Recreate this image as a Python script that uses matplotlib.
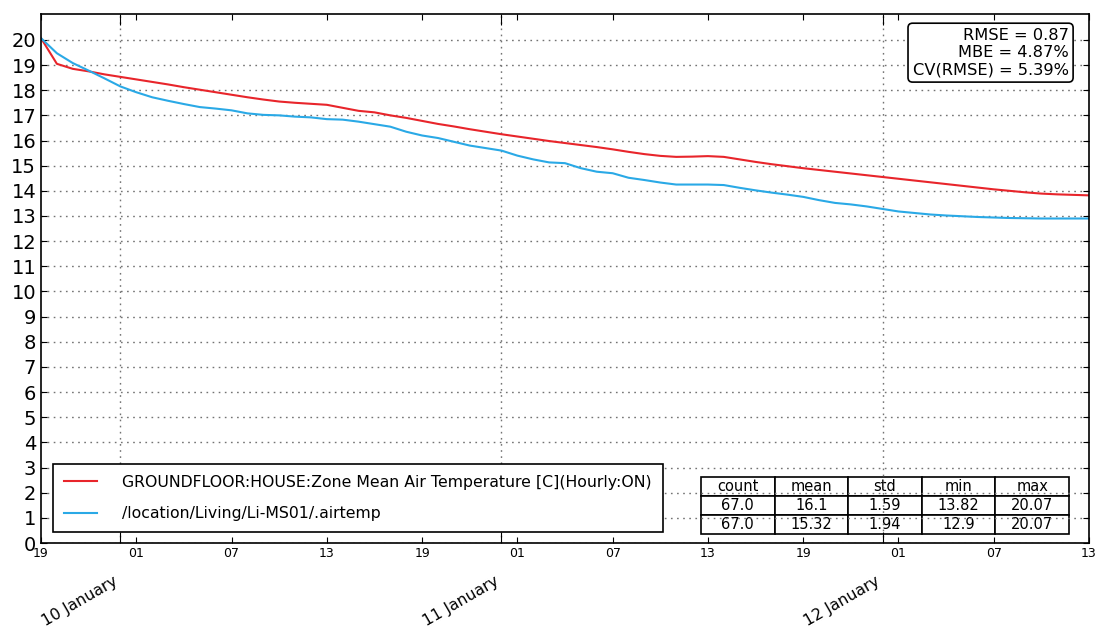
import matplotlib
matplotlib.use("Agg")
import matplotlib.pyplot as plt
import matplotlib.dates as mdates
import pandas as pd

# Hourly series, 2015-01-09 19:00 .. 2015-01-12 13:00
start = "2015-01-09 19:00"
sim_label = "GROUNDFLOOR:HOUSE:Zone Mean Air Temperature [C](Hourly:ON)"
meas_label = "/location/Living/Li-MS01/.airtemp"

sim_temp = [
    20.07, 19.05, 18.85, 18.75, 18.63, 18.53, 18.43, 18.33, 18.23, 18.12,
    18.02, 17.92, 17.82, 17.72, 17.63, 17.55, 17.50, 17.46, 17.42, 17.30,
    17.18, 17.12, 17.00, 16.90, 16.78, 16.66, 16.56, 16.45, 16.35, 16.25,
    16.16, 16.07, 15.98, 15.90, 15.82, 15.74, 15.65, 15.55, 15.46, 15.39,
    15.35, 15.36, 15.38, 15.35, 15.25, 15.15, 15.06, 14.98, 14.90, 14.83,
    14.76, 14.69, 14.62, 14.55, 14.48, 14.41, 14.34, 14.27, 14.20, 14.13,
    14.06, 14.00, 13.94, 13.89, 13.86, 13.84, 13.82,
]
meas_temp = [
    20.07, 19.47, 19.08, 18.78, 18.47, 18.15, 17.92, 17.72, 17.58, 17.45,
    17.33, 17.27, 17.20, 17.08, 17.02, 17.00, 16.95, 16.92, 16.85, 16.83,
    16.75, 16.65, 16.55, 16.35, 16.20, 16.10, 15.95, 15.80, 15.70, 15.60,
    15.40, 15.25, 15.13, 15.10, 14.90, 14.76, 14.70, 14.52, 14.43, 14.33,
    14.25, 14.25, 14.25, 14.23, 14.12, 14.02, 13.93, 13.85, 13.76, 13.63,
    13.52, 13.46, 13.38, 13.28, 13.18, 13.12, 13.06, 13.02, 12.99, 12.96,
    12.94, 12.92, 12.91, 12.90, 12.90, 12.90, 12.90,
]

stats_cols = ["count", "mean", "std", "min", "max"]
stats_rows = [
    ["67.0", "16.1", "1.59", "13.82", "20.07"],
    ["67.0", "15.32", "1.94", "12.9", "20.07"],
]
metrics_text = "RMSE = 0.87\nMBE = 4.87%\nCV(RMSE) = 5.39%"

y_ticks = list(range(0, 21))

times = pd.date_range(start, periods=len(sim_temp), freq="h")

plt.rcParams["font.family"] = "DejaVu Sans"
fig = plt.figure(figsize=(10.95, 6.28), dpi=100)
ax = fig.add_axes([0.03744, 0.13535, 0.95708, 0.84236])

ax.plot(times, sim_temp, color="#e8252b", lw=1.5, label=sim_label)
ax.plot(times, meas_temp, color="#2aa9e6", lw=1.5, label=meas_label)

ax.set_xlim(times[0], times[-1])
ax.set_ylim(0, 21.03)
ax.set_yticks(y_ticks)
ax.tick_params(axis="y", which="both", direction="in", length=4,
               right=True, labelsize=14, width=0.8)

ax.xaxis.set_major_locator(mdates.DayLocator())
ax.xaxis.set_major_formatter(mdates.DateFormatter("%d January"))
ax.xaxis.set_minor_locator(mdates.HourLocator(byhour=[1, 7, 13, 19]))
ax.xaxis.set_minor_formatter(mdates.DateFormatter("%H"))
ax.tick_params(axis="x", which="major", direction="in", length=8, top=True,
               pad=22, labelsize=11.3, width=0.8)
ax.tick_params(axis="x", which="minor", direction="in", length=4, top=True,
               pad=3, labelsize=9, width=0.8)
for lbl in ax.get_xticklabels(which="major"):
    lbl.set_rotation(30)
    lbl.set_ha("right")

ax.grid(True, which="major", axis="both", color="0.45",
        linestyle=(0, (1.2, 3.2)), lw=1.0)
for sp in ax.spines.values():
    sp.set_linewidth(1.2)

leg = ax.legend(loc="lower left", bbox_to_anchor=(0.0115, 0.0208),
                borderaxespad=0, fancybox=False, fontsize=11.3,
                handlelength=2.1, handletextpad=1.6, labelspacing=1.05,
                borderpad=0.7, framealpha=1)
leg.get_frame().set_edgecolor("black")
leg.get_frame().set_linewidth(1.2)

ax.text(0.9805, 0.974, metrics_text, transform=ax.transAxes, ha="right",
        va="top", fontsize=11.7, linespacing=1.2,
        bbox=dict(boxstyle="round,pad=0.28", fc="white", ec="black", lw=1.2))

tbl = ax.table(cellText=stats_rows, colLabels=stats_cols, cellLoc="center",
               bbox=[0.6298, 0.017, 0.3511, 0.1078])
tbl.auto_set_font_size(False)
tbl.set_fontsize(10.5)
for cell in tbl.get_celld().values():
    cell.set_linewidth(1.2)
    cell.set_edgecolor("black")

fig.savefig("out.png", dpi=100, facecolor="white")
